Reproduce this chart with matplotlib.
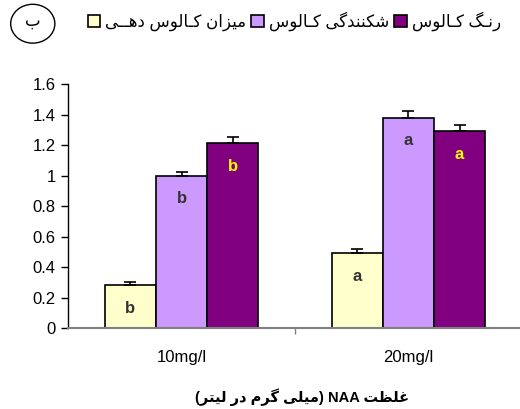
import numpy as np
import matplotlib
matplotlib.use('Agg')
import matplotlib.pyplot as plt
from matplotlib.patches import Ellipse

plt.rcParams['font.family'] = ['Liberation Sans', 'DejaVu Sans']

categories = ['10mg/l', '20mg/l']
series_names = ['میزان کـالوس دهــی', 'شکنندگی کـالوس', 'رنـگ کـالوس']
values = [
    [0.28, 0.49],   # yellow
    [1.00, 1.38],   # light purple
    [1.21, 1.29],   # dark purple
]
errors = [
    [0.025, 0.025],
    [0.025, 0.045],
    [0.04, 0.04],
]
letters = [
    ['b', 'a'],
    ['b', 'a'],
    ['b', 'a'],
]
colors = ['#FFFFCC', '#CC99FF', '#800080']
letter_colors = ['#333333', '#333333', '#FFFF00']
yticks = [0, 0.2, 0.4, 0.6, 0.8, 1, 1.2, 1.4, 1.6]
ytick_labels = ['0', '0.2', '0.4', '0.6', '0.8', '1', '1.2', '1.4', '1.6']
xlabel_parts = ['غلظت', 'NAA', 'میلی گرم در لیتر']
panel_label = 'ب'

# simple persian shaping (presentation forms) since matplotlib has no bidi
forms = {
    'ا': ('\uFE8D', '\uFE8E', None, None),
    'ب': ('\uFE8F', '\uFE90', '\uFE91', '\uFE92'),
    'ت': ('\uFE95', '\uFE96', '\uFE97', '\uFE98'),
    'د': ('\uFEA9', '\uFEAA', None, None),
    'ر': ('\uFEAD', '\uFEAE', None, None),
    'ز': ('\uFEAF', '\uFEB0', None, None),
    'س': ('\uFEB1', '\uFEB2', '\uFEB3', '\uFEB4'),
    'ش': ('\uFEB5', '\uFEB6', '\uFEB7', '\uFEB8'),
    'ط': ('\uFEC1', '\uFEC2', '\uFEC3', '\uFEC4'),
    'ظ': ('\uFEC5', '\uFEC6', '\uFEC7', '\uFEC8'),
    'غ': ('\uFECD', '\uFECE', '\uFECF', '\uFED0'),
    'ل': ('\uFEDD', '\uFEDE', '\uFEDF', '\uFEE0'),
    'م': ('\uFEE1', '\uFEE2', '\uFEE3', '\uFEE4'),
    'ن': ('\uFEE5', '\uFEE6', '\uFEE7', '\uFEE8'),
    'ه': ('\uFEE9', '\uFEEA', '\uFEEB', '\uFEEC'),
    'و': ('\uFEED', '\uFEEE', None, None),
    'ک': ('\uFB8E', '\uFB8F', '\uFB90', '\uFB91'),
    'گ': ('\uFB92', '\uFB93', '\uFB94', '\uFB95'),
    'ی': ('\uFBFC', '\uFBFD', '\uFBFE', '\uFBFF'),
}
TATWEEL = 'ـ'

def joins_next(c):
    return c == TATWEEL or (c in forms and forms[c][2] is not None)

def is_letter(c):
    return c == TATWEEL or c in forms

def rtl(s):
    out = []
    for i, c in enumerate(s):
        if c not in forms:
            out.append(c)
            continue
        p = i > 0 and joins_next(s[i-1])
        n = i < len(s)-1 and is_letter(s[i+1]) and joins_next(c)
        iso, fin, ini, med = forms[c]
        if p and n:
            out.append(med)
        elif p:
            out.append(fin)
        elif n:
            out.append(ini)
        else:
            out.append(iso)
    return ''.join(out[::-1])

fig = plt.figure(figsize=(5.2, 4.09), dpi=100)
ax = fig.add_axes([0.1308, 0.198, 0.873, 0.5966])

x = np.arange(len(categories))
w = 0.225
bars = []
for i in range(3):
    xs = x + (i-1)*w
    b = ax.bar(xs, values[i], w, color=colors[i], edgecolor='black', linewidth=1.2, zorder=2)
    bars.append(b)
    ax.errorbar(xs, values[i], yerr=[[0]*len(xs), errors[i]], fmt='none', ecolor='black',
                elinewidth=1.2, capsize=4.3, capthick=1.2, zorder=3)
    for j in range(len(xs)):
        ax.text(xs[j], values[i][j]-0.15, letters[i][j], ha='center', va='center',
                fontsize=12, fontweight='bold', color=letter_colors[i], zorder=4)

ax.set_xlim(-0.5, 1.5)
ax.set_ylim(0, 1.6)
ax.set_yticks(yticks)
ax.set_yticklabels(ytick_labels, fontsize=12)
ax.set_xticks(x)
ax.set_xticklabels(categories, fontsize=12)
ax.tick_params(axis='x', length=0, pad=16)
ax.set_xticks([0.5, 1.5], minor=True)
ax.tick_params(axis='x', which='minor', length=4, color='#808080', width=1)
ax.tick_params(axis='y', length=5, width=1, color='black', pad=4)
ax.spines['top'].set_visible(False)
ax.spines['right'].set_visible(False)
ax.spines['bottom'].set_color('#808080')
ax.spines['bottom'].set_linewidth(1.5)
ax.spines['left'].set_linewidth(1)

xl = '(' + rtl(xlabel_parts[2]) + ') ' + xlabel_parts[1] + ' ' + rtl(xlabel_parts[0])
fig.text(0.58, 0.03, xl, ha='center', va='center', fontsize=10.5, fontweight='bold')

fig.legend(bars, [rtl(s) for s in series_names], ncol=3, loc='center left',
           bbox_to_anchor=(0.14, 0.948), frameon=False, fontsize=12,
           handlelength=0.75, handleheight=0.75, handletextpad=0.3, columnspacing=0.3)

fig.add_artist(Ellipse((0.063, 0.942), 0.085, 0.095, transform=fig.transFigure,
                       fill=False, edgecolor='black', linewidth=1))
fig.text(0.063, 0.947, rtl(panel_label), ha='center', va='center', fontsize=12)

fig.savefig('out.png', dpi=100)
